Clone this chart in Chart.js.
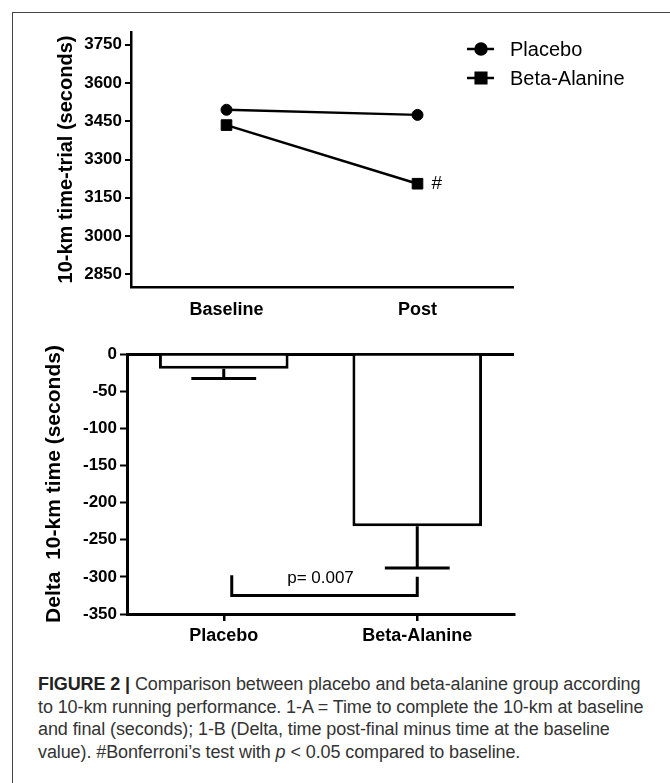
<!DOCTYPE html>
<html>
<head>
<meta charset="utf-8">
<script src="https://cdn.jsdelivr.net/npm/chart.js@4.4.1/dist/chart.umd.min.js"></script>
<style>
  body { margin: 0; background: #fff; }
  #frame { position: absolute; left: 12px; top: 12px; width: 700px; height: 800px;
           border-left: 1.5px solid #444; border-top: 1.5px solid #444; }
  #topChart { position: absolute; left: 0; top: 0; }
  #bottomChart { position: absolute; left: 0; top: 330px; }
  #caption { position: absolute; left: 38px; top: 673px; white-space: nowrap;
             font-family: "Liberation Sans", Arial, sans-serif; font-size: 18px;
             line-height: 22.6px; color: #333; letter-spacing: -0.1px; }
  #caption b { color: #222; }
</style>
</head>
<body>
<div id="frame"></div>
<canvas id="topChart" width="670" height="330"></canvas>
<canvas id="bottomChart" width="670" height="330"></canvas>
<div id="caption">
  <b>FIGURE 2 |</b> Comparison between placebo and beta-alanine group according<br>
  to 10-km running performance. 1-A = Time to complete the 10-km at baseline<br>
  and final (seconds); 1-B (Delta, time post-final minus time at the baseline<br>
  value). #Bonferroni’s test with <i>p</i> &lt; 0.05 compared to baseline.
</div>
<script>
// panel A: 10-km time trial
const timepoints = ["Baseline", "Post"];
const placeboTime = [3495, 3475];
const betaTime = [3435, 3205];
const yTicksTop = [2850, 3000, 3150, 3300, 3450, 3600, 3750];

// panel B: delta
const groups = ["Placebo", "Beta-Alanine"];
const deltaMean = [-20, -232];
const deltaErr = [13, 56];
const yTicksBottom = [0, -50, -100, -150, -200, -250, -300, -350];
const pText = "p= 0.007";
const bracketLevel = -325;
const bracketTops = [-298, -300];

Chart.defaults.font.family = '"Liberation Sans", Arial, sans-serif';
Chart.defaults.color = "#000";

const legendPlugin = {
    id: "sideLegend",
    afterDraw(chart) {
        const ctx = chart.ctx;
        const rows = [49, 78];
        ctx.save();
        chart.data.datasets.forEach((ds, i) => {
            const y = rows[i];
            ctx.strokeStyle = "#000";
            ctx.lineWidth = 2.5;
            ctx.beginPath();
            ctx.moveTo(467, y);
            ctx.lineTo(494, y);
            ctx.stroke();
            ctx.fillStyle = "#000";
            Chart.helpers.drawPoint(ctx, {pointStyle: ds.pointStyle, radius: ds.pointRadius, borderWidth: 1}, 481, y);
            ctx.fill();
            ctx.font = '20px "Liberation Sans", Arial, sans-serif';
            ctx.textBaseline = "middle";
            ctx.textAlign = "left";
            ctx.fillText(ds.label, 510, y + 1);
        });
        // # mark next to Beta-Alanine post point
        const pt = chart.getDatasetMeta(1).data[1];
        ctx.font = '19px "Liberation Sans", Arial, sans-serif';
        ctx.fillText("#", pt.x + 14, pt.y);
        ctx.restore();
    }
};

new Chart(document.getElementById("topChart"), {
    type: "line",
    data: {
        labels: timepoints,
        datasets: [
            {
                label: "Placebo",
                data: placeboTime,
                borderColor: "#000",
                backgroundColor: "#000",
                borderWidth: 2.5,
                pointStyle: "circle",
                pointRadius: 5.5,
                pointBorderWidth: 1
            },
            {
                label: "Beta-Alanine",
                data: betaTime,
                borderColor: "#000",
                backgroundColor: "#000",
                borderWidth: 2.5,
                pointStyle: "rect",
                pointRadius: 7.5,
                pointBorderWidth: 1
            }
        ]
    },
    options: {
        responsive: false,
        animation: false,
        layout: { padding: { left: 0, top: 32, right: 157, bottom: 0 } },
        plugins: { legend: { display: false }, tooltip: { enabled: false } },
        scales: {
            x: {
                offset: true,
                grid: { drawOnChartArea: false, drawTicks: false },
                border: { color: "#000", width: 2.5 },
                ticks: { font: { size: 18, weight: "bold" }, color: "#000", padding: 12 },
                afterFit: s => { s.height = 43; }
            },
            y: {
                min: 2800,
                max: 3800,
                afterBuildTicks: s => { s.ticks = yTicksTop.map(v => ({ value: v })); },
                grid: { drawOnChartArea: false, tickLength: 6, color: "#000", lineWidth: 2 },
                border: { color: "#000", width: 2.5 },
                ticks: { font: { size: 17, weight: "bold" }, color: "#000", padding: 3, callback: v => String(v) },
                title: {
                    display: true,
                    text: "10-km time-trial (seconds)",
                    font: { size: 20, weight: "bold" },
                    color: "#000",
                    padding: { top: 54, bottom: 0 }
                },
                afterFit: s => { s.width = 131; }
            }
        }
    },
    plugins: [legendPlugin]
});

const errorBarPlugin = {
    id: "errorBars",
    afterDatasetsDraw(chart) {
        const ctx = chart.ctx;
        const y = chart.scales.y;
        const x = chart.scales.x;
        ctx.save();
        ctx.strokeStyle = "#000";
        ctx.lineWidth = 3;
        chart.getDatasetMeta(0).data.forEach((bar, i) => {
            const yEnd = y.getPixelForValue(deltaMean[i] - deltaErr[i]);
            const half = bar.width * 0.25;
            ctx.beginPath();
            ctx.moveTo(bar.x, bar.y);
            ctx.lineTo(bar.x, yEnd);
            ctx.moveTo(bar.x - half, yEnd);
            ctx.lineTo(bar.x + half, yEnd);
            ctx.stroke();
        });
        // significance bracket
        const x1 = x.getPixelForValue(0) + 8;
        const x2 = x.getPixelForValue(1);
        const yb = y.getPixelForValue(bracketLevel);
        ctx.beginPath();
        ctx.moveTo(x1, y.getPixelForValue(bracketTops[0]));
        ctx.lineTo(x1, yb);
        ctx.lineTo(x2, yb);
        ctx.moveTo(x2, y.getPixelForValue(bracketTops[1]));
        ctx.lineTo(x2, yb + 1.5);
        ctx.stroke();
        ctx.fillStyle = "#000";
        ctx.font = '17px "Liberation Sans", Arial, sans-serif';
        ctx.textAlign = "center";
        ctx.textBaseline = "middle";
        ctx.fillText(pText, (x1 + x2) / 2 - 4, yb - 17);
        ctx.restore();
    }
};

new Chart(document.getElementById("bottomChart"), {
    type: "bar",
    data: {
        labels: groups,
        datasets: [{
            data: deltaMean,
            backgroundColor: "#fff",
            borderColor: "#000",
            borderWidth: 3,
            barPercentage: 0.67,
            categoryPercentage: 1
        }]
    },
    options: {
        responsive: false,
        animation: false,
        layout: { padding: { left: 0, top: 24, right: 156, bottom: 0 } },
        plugins: { legend: { display: false }, tooltip: { enabled: false } },
        scales: {
            x: {
                grid: { offset: false, drawOnChartArea: false, tickLength: 7, color: "#000", lineWidth: 2.5 },
                border: { color: "#000", width: 3 },
                ticks: { font: { size: 18, weight: "bold" }, color: "#000", padding: 4 },
                afterFit: s => { s.height = 46; }
            },
            y: {
                min: -350,
                max: 0,
                afterBuildTicks: s => { s.ticks = yTicksBottom.map(v => ({ value: v })); },
                grid: {
                    color: c => (c.tick && c.tick.value === 0 ? "#000" : "rgba(0,0,0,0)"),
                    tickColor: "#000",
                    lineWidth: 3,
                    tickWidth: 2,
                    tickLength: 7
                },
                border: { color: "#000", width: 3 },
                ticks: { font: { size: 17, weight: "bold" }, color: "#000", padding: 3, callback: v => String(v) },
                title: {
                    display: true,
                    text: "Delta  10-km time (seconds)",
                    font: { size: 21, weight: "bold" },
                    color: "#000",
                    padding: { top: 42, bottom: 0 }
                },
                afterFit: s => { s.width = 127; }
            }
        }
    },
    plugins: [errorBarPlugin]
});
</script>
</body>
</html>
